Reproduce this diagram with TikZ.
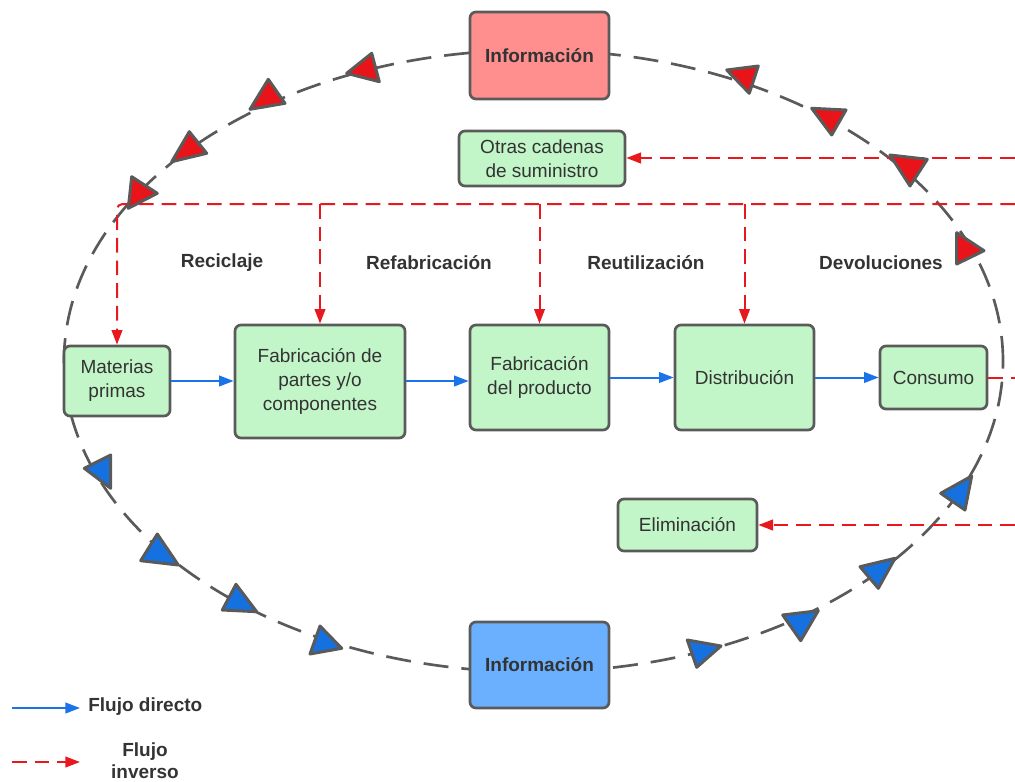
\documentclass[tikz,border=0pt]{standalone}
\usepackage{fontspec}
\setmainfont{Liberation Sans}
\usetikzlibrary{arrows.meta}
\definecolor{boxgreen}{HTML}{C2F5C7}
\definecolor{infored}{HTML}{FF8F8F}
\definecolor{infoblue}{HTML}{6BB0FF}
\definecolor{edgegray}{HTML}{5A5A5A}
\definecolor{txtgray}{HTML}{333333}
\definecolor{flowblue}{HTML}{1A73E8}
\definecolor{flowred}{HTML}{E8191E}
\definecolor{trired}{HTML}{E8141A}
\definecolor{triblue}{HTML}{1570E0}
\tikzset{
  box/.style={draw=edgegray, line width=2pt, rounded corners=4.5pt, fill=boxgreen,
    inner sep=0pt, align=center, text=txtgray, font=\fontsize{14.25}{18}\selectfont},
  infobox/.style={box, font=\fontsize{14.25}{18}\selectfont\bfseries},
  lbl/.style={text=txtgray, font=\fontsize{14.25}{18}\selectfont\bfseries, inner sep=0pt, align=center},
  dirflow/.style={draw=flowblue, line width=1.5pt, -{Triangle[length=11pt,width=8pt]}},
  invflow/.style={draw=flowred, line width=1.5pt, dash pattern=on 11pt off 6pt, -{Triangle[length=11pt,width=8pt]}},
  invline/.style={draw=flowred, line width=1.5pt, dash pattern=on 11pt off 6pt},
  ring/.style={draw=edgegray, line width=2pt, dash pattern=on 18.75pt off 9.75pt},
  tri/.style={draw=edgegray, line width=2.25pt, line join=round},
}
\begin{document}
\begin{tikzpicture}[x=0.75pt,y=-0.75pt]
\useasboundingbox (0,0) rectangle (1015,782);
% information ring
\draw[ring] (533.5,361) ellipse [x radius=352.125pt, y radius=233.25pt];

% nodes
\node[infobox, fill=infored, minimum width=104.25pt, minimum height=65.25pt] (infoT) at (539.5,55.5) {Información};
\node[infobox, fill=infoblue, minimum width=104.25pt, minimum height=64.5pt] (infoB) at (539.5,665) {Información};
\node[box, minimum width=124.5pt, minimum height=41.25pt] (otras) at (542,158.5) {Otras cadenas\\de suministro};
\node[box, minimum width=79.5pt, minimum height=52.5pt] (mp) at (117,381) {Materias\\primas};
\node[box, minimum width=127.5pt, minimum height=84.75pt] (fp) at (320,381.5) {Fabricación de\\partes y/o\\componentes};
\node[box, minimum width=104.25pt, minimum height=78.75pt] (fpr) at (539.5,377.5) {Fabricación\\del producto};
\node[box, minimum width=104.25pt, minimum height=78.75pt] (dist) at (744.5,377.5) {Distribución};
\node[box, minimum width=80.25pt, minimum height=47.25pt] (cons) at (933.5,377.5) {Consumo};
\node[box, minimum width=104.25pt, minimum height=39pt] (elim) at (687.5,525) {Eliminación};

% labels
\node[lbl] (lrec) at (222,263) {Reciclaje};
\node[lbl] (lref) at (429,263) {Refabricación};
\node[lbl] (lreu) at (646,263) {Reutilización};
\node[lbl] (ldev) at (881,263) {Devoluciones};

% direct flow
\draw[dirflow] (mp.east) -- (mp.east -| fp.west);
\draw[dirflow] (fp.east |- 0,381) -- (fpr.west |- 0,381);
\draw[dirflow] (fpr.east) -- (dist.west);
\draw[dirflow] (dist.east) -- (cons.west);

% inverse flow
\coordinate (eTop) at (1015,204);
\coordinate (eOtras) at (1015,158);
\coordinate (eElim) at (1015,525);
\coordinate (eCons) at (1015,378);
\draw[invflow, rounded corners=4pt] (eTop) -| (mp.north);
\draw[invflow] (fp.north |- eTop) -- (fp.north);
\draw[invflow] (fpr.north |- eTop) -- (fpr.north);
\draw[invflow] (dist.north |- eTop) -- (dist.north);
\draw[invflow] (eOtras) -- (otras.east |- eOtras);
\draw[invflow] (eElim) -- (elim.east |- eElim);
\draw[invline] (cons.east |- eCons) -- (eCons);

% red triangles (upper half)
\draw[tri, fill=trired] (346.7,73.3) -- (371.7,53.3) -- (379.3,81.7) -- cycle;
\draw[tri, fill=trired] (268.3,79.3) -- (285,103.3) -- (250,109.3) -- cycle;
\draw[tri, fill=trired] (189.3,131.7) -- (206.7,153.3) -- (171.7,161.7) -- cycle;
\draw[tri, fill=trired] (131.7,176.7) -- (157.3,193.3) -- (128.3,208.3) -- cycle;
\draw[tri, fill=trired] (726.7,70) -- (758.3,66) -- (749.3,93.3) -- cycle;
\draw[tri, fill=trired] (811.7,108.3) -- (846,110) -- (831.7,135) -- cycle;
\draw[tri, fill=trired] (890,155) -- (927.3,159.3) -- (910,186) -- cycle;
\draw[tri, fill=trired] (956.7,232.7) -- (984,250.7) -- (956.7,264) -- cycle;
% blue triangles (lower half)
\draw[tri, fill=triblue] (84.3,468.3) -- (110.7,455) -- (110.7,488.3) -- cycle;
\draw[tri, fill=triblue] (157.3,534) -- (178.3,565) -- (140.7,560.7) -- cycle;
\draw[tri, fill=triblue] (236,584.3) -- (256.7,611.7) -- (222.3,610) -- cycle;
\draw[tri, fill=triblue] (320,626) -- (341.7,648.3) -- (310,654) -- cycle;
\draw[tri, fill=triblue] (687.3,640) -- (721,646) -- (696.7,667.3) -- cycle;
\draw[tri, fill=triblue] (782.7,615) -- (818.3,610.7) -- (800.7,640.7) -- cycle;
\draw[tri, fill=triblue] (860,566.7) -- (895,558.3) -- (878.3,588.3) -- cycle;
\draw[tri, fill=triblue] (940.7,493.3) -- (971.7,476) -- (965,510) -- cycle;

% legend
\coordinate (lg1a) at (12,708);
\coordinate (lg1b) at (80,708);
\coordinate (lg2a) at (12,762);
\coordinate (lg2b) at (80,762);
\draw[dirflow] (lg1a) -- (lg1b);
\draw[invflow] (lg2a) -- (lg2b);
\node[lbl, anchor=west] (lgd) at (88,707) {Flujo directo};
\node[lbl, font=\fontsize{14.25}{16.5}\selectfont\bfseries] (lgi) at (145,761) {Flujo\\inverso};
\end{tikzpicture}
\end{document}
